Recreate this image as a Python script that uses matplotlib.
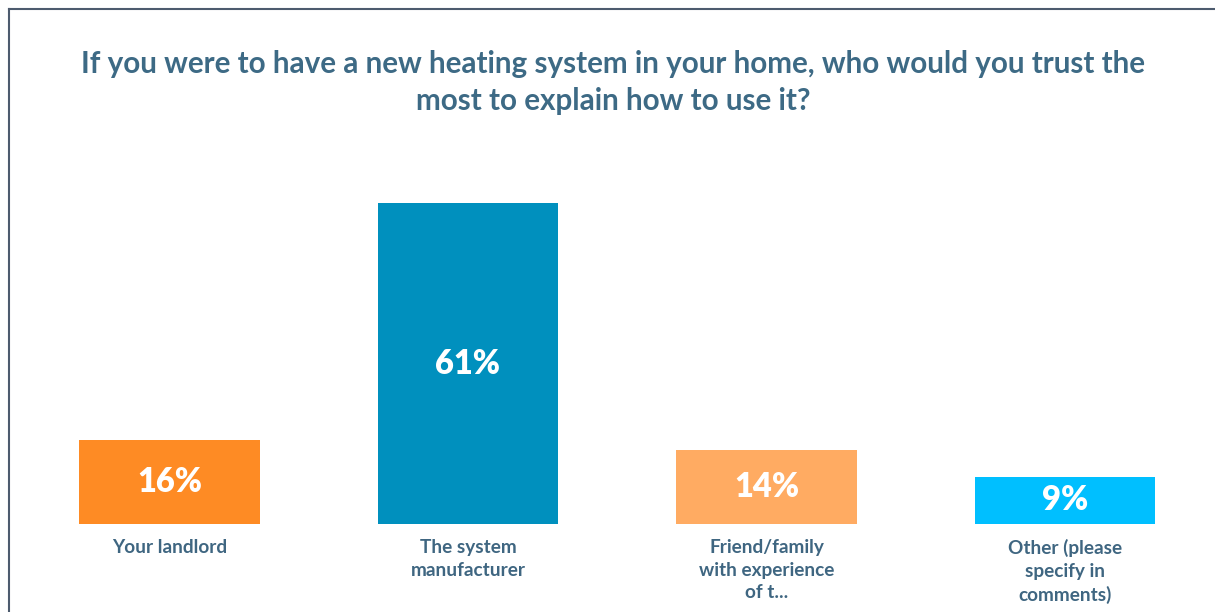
import matplotlib
matplotlib.use("Agg")
import matplotlib.pyplot as plt
from matplotlib.lines import Line2D

categories = ["Your landlord", "The system\nmanufacturer", "Friend/family\nwith experience\nof t...", "Other (please\nspecify in\ncomments)"]
values = [16, 61, 14, 9]
value_labels = ["16%", "61%", "14%", "9%"]
colors = ["#FE8B24", "#0090BE", "#FFAB62", "#00BFFF"]
title = "If you were to have a new heating system in your home, who would you trust the\nmost to explain how to use it?"

W, H = 1215, 612
fig = plt.figure(figsize=(W / 100, H / 100), dpi=100)
fig.patch.set_facecolor("white")

L, R = 20.25, 1214.25
bottom_px, top_px = 524, 156
ax = fig.add_axes([L / W, (H - bottom_px) / H, (R - L) / W, (bottom_px - top_px) / H])
ax.set_xlim(-0.5, 3.5)
ax.set_ylim(0, 70)
ax.axis("off")

x = list(range(len(values)))
ax.bar(x, values, width=0.606, color=colors)
for xi, v, lab in zip(x, values, value_labels):
    ax.text(xi, v / 2, lab, ha="center", va="center", color="white",
            fontsize=23.5, fontweight="heavy", family="Lato")

for xi, cat in zip(x, categories):
    ax.annotate(cat, xy=(xi, 0), xytext=(0, -11), textcoords="offset points",
                ha="center", va="top", color="#3F6681", fontsize=13.7,
                fontweight="bold", family="Lato", linespacing=1.38)

fig.text(613 / W, 1 - 50 / H, title, ha="center", va="top", color="#3D6A85",
         fontsize=21.3, fontweight="bold", family="Lato", linespacing=1.38)

# frame lines
fig.add_artist(Line2D([8.5 / W, 8.5 / W], [0, 1 - 9 / H], color="#4D5B6E", lw=1.5))
fig.add_artist(Line2D([8.5 / W, 1], [1 - 9 / H, 1 - 9 / H], color="#4D5B6E", lw=1.5))

fig.savefig("out.png", dpi=100)
